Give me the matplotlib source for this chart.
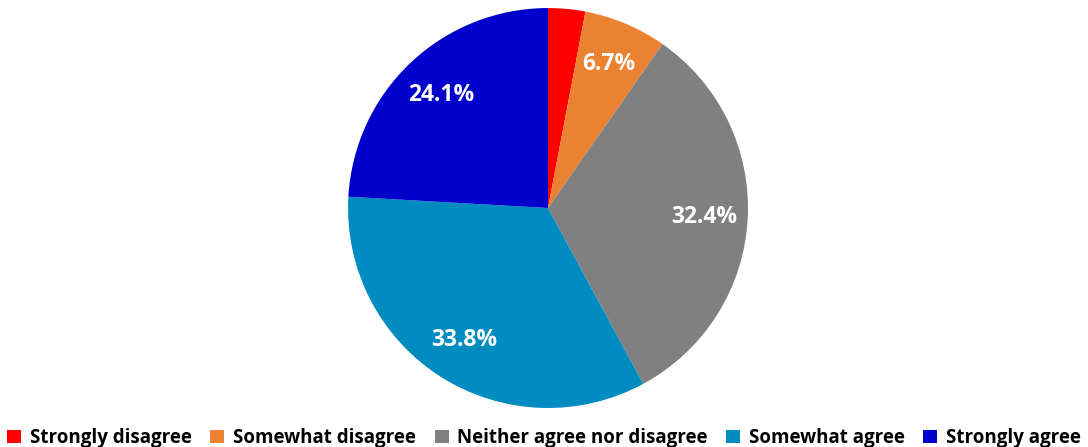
import matplotlib.pyplot as plt
from matplotlib.patches import Patch

plt.rcParams['font.family'] = ['Open Sans', 'DejaVu Sans']

categories = ['Strongly disagree', 'Somewhat disagree', 'Neither agree nor disagree',
              'Somewhat agree', 'Strongly agree']
values = [3.0, 6.7, 32.4, 33.8, 24.1]
colors = ['#FF0000', '#EB8232', '#808080', '#008CC0', '#0000CC']

fig = plt.figure(figsize=(10.88, 4.47), dpi=100)
ax = fig.add_axes([0.3199, 0.0872, 0.3676, 0.8949])

def fmt(p):
    # smallest slice has no label in the original
    return '' if p < 5 else '%.1f%%' % p

wedges, texts, autotexts = ax.pie(values, colors=colors, startangle=90, counterclock=False,
                                  autopct=fmt, pctdistance=0.78,
                                  wedgeprops={'linewidth': 0})
for t in autotexts:
    t.set_color('white')
    t.set_fontsize(16.5)
    t.set_fontweight('bold')
ax.set_xlim(-1, 1)
ax.set_ylim(-1, 1)
ax.set_aspect('equal')

handles = [Patch(facecolor=c, edgecolor='none') for c in colors]
leg = fig.legend(handles, categories, loc='lower center', bbox_to_anchor=(0.5, -0.04), ncol=5,
                 frameon=False, handlelength=0.75, handleheight=0.75, handletextpad=0.45,
                 columnspacing=1.0, prop={'size': 13.5, 'weight': 'bold'})

fig.savefig('out.png', dpi=100)
